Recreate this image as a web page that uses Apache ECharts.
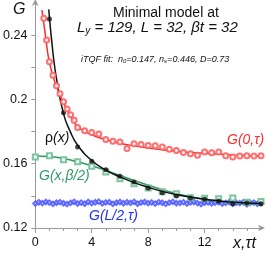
<!DOCTYPE html>
<html><head><meta charset="utf-8">
<script src="https://cdn.jsdelivr.net/npm/echarts@6/dist/echarts.min.js"></script>
<style>html,body{margin:0;padding:0;background:#fff}#c{width:266px;height:254px}</style>
</head><body><div id="c"></div>
<script>
// ---- data ----
const redX = [0.6,0.8,1.0,1.25,1.5,1.75,2.0,2.25,2.5,2.75,3.0,3.5,4.0,4.5,5.0,5.5,6.0,6.5,7.0,7.5,8.0,8.5,9.0,9.5,10.0,10.5,11.0,11.5,12.0,12.5,13.0,13.5,14.0,14.5,15.0,15.5,16.0];
const redY = [0.2505,0.2370,0.2235,0.2150,0.2085,0.2035,0.1985,0.1940,0.1905,0.1870,0.1825,0.1805,0.1795,0.1785,0.1750,0.1740,0.1735,0.1695,0.1724,0.1720,0.1714,0.1712,0.1704,0.1690,0.1683,0.1670,0.1662,0.1652,0.1673,0.1668,0.1673,0.1650,0.1642,0.1648,0.1650,0.1648,0.1650];
const redCurveX = [0.47,0.7,1.0,1.5,2.0,2.5,3.0,4.0,5.0,6.0,7.0,8.0,10.0,12.0,14.0,16.0];
const redCurveY = [0.2556,0.2410,0.2230,0.2080,0.1980,0.1895,0.1830,0.1780,0.1750,0.1727,0.1712,0.1698,0.1678,0.1665,0.1655,0.1647];

const blackX = [1,2,3,4,5,6,7,8,9,10,11,12,13,14,15,16];
const blackY = [0.2500,0.1917,0.1704,0.1615,0.1563,0.1522,0.1486,0.1449,0.1420,0.1399,0.1387,0.1379,0.1368,0.1351,0.1356,0.1351];
const blackCurveX = [0.95,1.25,1.5,2.0,2.5,3.0,4.0,5.0,6.0,7.0,8.0,9.0,10.0,11.0,12.0,13.0,14.0,15.0,16.0];
const blackCurveY = [0.2560,0.2290,0.2130,0.1910,0.1795,0.1715,0.1620,0.1560,0.1518,0.1483,0.1453,0.1428,0.1408,0.1392,0.1379,0.1369,0.1361,0.1356,0.1352];

const greenX = [0,1,2,3,4,5,6,7,8,9,10,11,12,13,14,15,16];
const greenY = [0.1642,0.1650,0.1625,0.1613,0.1584,0.1548,0.1507,0.1476,0.1449,0.1425,0.1413,0.1389,0.1385,0.1382,0.1387,0.1360,0.1365];
const greenCurveX = [0,1,2,3,4,5,6,7,8,9,10,11,12,13,14,15,16];
const greenCurveY = [0.1648,0.1645,0.1632,0.1612,0.1587,0.1558,0.1527,0.1496,0.1466,0.1438,0.1414,0.1394,0.1378,0.1366,0.1358,0.1353,0.1351];

const blueX = [0,0.25,0.5,0.75,1,1.25,1.5,1.75,2,2.25,2.5,2.75,3,3.25,3.5,3.75,4,4.25,4.5,4.75,5,5.25,5.5,5.75,6,6.25,6.5,6.75,7,7.25,7.5,7.75,8,8.25,8.5,8.75,9,9.25,9.5,9.75,10,10.25,10.5,10.75,11,11.25,11.5,11.75,12,12.25,12.5,12.75,13,13.25,13.5,13.75,14,14.25,14.5,14.75,15,15.25,15.5,15.75,16];
const blueY = [0.1352,0.1360,0.1355,0.1362,0.1358,0.1350,0.1357,0.1361,0.1354,0.1349,0.1356,0.1363,0.1352,0.1358,0.1351,0.1362,0.1355,0.1360,0.1364,0.1353,0.1359,0.1361,0.1350,0.1357,0.1362,0.1354,0.1360,0.1356,0.1363,0.1351,0.1358,0.1362,0.1355,0.1359,0.1352,0.1361,0.1357,0.1350,0.1358,0.1363,0.1354,0.1356,0.1361,0.1352,0.1359,0.1362,0.1355,0.1349,0.1357,0.1360,0.1353,0.1358,0.1361,0.1352,0.1356,0.1362,0.1350,0.1357,0.1355,0.1360,0.1348,0.1356,0.1358,0.1351,0.1354];
const blueLineX = [-0.1,16];
const blueLineY = [0.1355,0.1355];

const yLabels = [0.12,0.16,0.2,0.24];
const yTicks = [0.12,0.14,0.16,0.18,0.2,0.22,0.24];
const xLabels = [0,4,8,12];

const RED='#ff2a2a', BLUE='#1f2dff', GREEN='#2f9a68', BLACK='#111';
const FONT='Liberation Sans, Arial, sans-serif';

const zip=(a,b)=>a.map((v,i)=>[v,b[i]]);

function errSeries(xs, ys, err, color, z){
  return {type:'custom', z:z, silent:true,
    data: xs.map((v,i)=>[v,ys[i]]),
    renderItem:(params, api)=>{
      const x=api.value(0), y=api.value(1);
      const p1=api.coord([x,y+err]), p2=api.coord([x,y-err]);
      const w=1.3;
      return {type:'group', children:[
        {type:'line', shape:{x1:p1[0],y1:p1[1],x2:p2[0],y2:p2[1]}, style:{stroke:color,lineWidth:0.7}},
        {type:'line', shape:{x1:p1[0]-w,y1:p1[1],x2:p1[0]+w,y2:p1[1]}, style:{stroke:color,lineWidth:0.7}},
        {type:'line', shape:{x1:p2[0]-w,y1:p2[1],x2:p2[0]+w,y2:p2[1]}, style:{stroke:color,lineWidth:0.7}}
      ]};
    }};
}

const chart = echarts.init(document.getElementById('c'), null, {renderer:'canvas'});
chart.setOption({
  animation:false,
  grid:{left:35,right:5,top:3,bottom:26,containLabel:false},
  xAxis:{type:'value', min:0, max:16, interval:4,
    axisLine:{show:true, lineStyle:{color:'#999',width:1}, symbol:['none','arrow'], symbolSize:[5,7], symbolOffset:[0,4]},
    axisTick:{show:true, length:5, lineStyle:{color:'#999'}, customValues:xLabels},
    minorTick:{show:true, splitNumber:4, length:3, lineStyle:{color:'#999'}},
    axisLabel:{customValues:xLabels, color:'#111', fontSize:12.5, fontFamily:FONT, margin:8},
    splitLine:{show:false}},
  yAxis:{type:'value', min:0.12, max:0.26, interval:0.02,
    axisLine:{show:true, lineStyle:{color:'#999',width:1}, symbol:['none','arrow'], symbolSize:[5,7], symbolOffset:[0,4]},
    axisTick:{show:true, length:4, lineStyle:{color:'#999'}, customValues:yTicks},
    axisLabel:{customValues:yLabels, color:'#111', fontSize:12.5, fontFamily:FONT, margin:8,
      formatter:v=>String(+(+v).toFixed(2))},
    splitLine:{show:false}},
  series:[
    {type:'line', data:zip(blueLineX,blueLineY), showSymbol:false, lineStyle:{color:BLUE,width:2}, z:2},
    errSeries(blueX, blueY, 0.0010, '#5a64ff', 3),
    {type:'scatter', data:zip(blueX,blueY), symbol:'emptyDiamond', symbolSize:4.5, itemStyle:{color:'#4a55ff', borderColor:'#4a55ff', borderWidth:0.7}, z:4},
    {type:'line', data:zip(greenCurveX,greenCurveY), smooth:true, showSymbol:false, lineStyle:{color:GREEN,width:1.6}, z:5},
    {type:'scatter', data:zip(greenX,greenY), symbol:'emptyRect', symbolSize:5, itemStyle:{color:'#6fbf95', borderColor:'#6fbf95', borderWidth:0.9, opacity:0.9}, z:6},
    {type:'line', data:zip(blackCurveX,blackCurveY), smooth:true, showSymbol:false, lineStyle:{color:BLACK,width:1.5}, z:7},
    {type:'scatter', data:zip(blackX,blackY), symbol:'circle', symbolSize:5, itemStyle:{color:BLACK}, z:8},
    {type:'line', data:zip(redCurveX,redCurveY), smooth:true, showSymbol:false, lineStyle:{color:RED,width:1.5}, z:9},
    errSeries(redX, redY, 0.0009, '#ff7a7a', 10),
    {type:'scatter', data:zip(redX,redY), symbol:'emptyCircle', symbolSize:5, itemStyle:{color:'#ff6060', borderColor:'#ff6060', borderWidth:0.8, opacity:0.9}, z:11}
  ],
  graphic:[
    {type:'text', left:13, top:2, style:{text:'G', font:'italic 16px '+FONT, fill:'#111'}},
    {type:'text', left:233, top:236, style:{text:'x,τt', font:'italic 16px '+FONT, fill:'#111'}},
    {type:'text', left:113, top:6, style:{text:'Minimal model at', font:'14px '+FONT, fill:'#111'}},
    {type:'text', left:77, top:20, style:{
      rich:{a:{font:'italic 15px '+FONT, fill:'#111'}, s:{font:'italic 10px '+FONT, fill:'#111', verticalAlign:'bottom', padding:[8,0,0,0]}},
      text:'{a|L}{s|y}{a| = 129, L = 32, βt = 32}'}},
    {type:'text', left:81, top:55, style:{
      rich:{a:{font:'italic 9px '+FONT, fill:'#111'}, s:{font:'italic 6px '+FONT, fill:'#111', padding:[4,0,0,0]}},
      text:'{a|iTQF fit:  n}{s|0}{a|=0.147, n}{s|s}{a|=0.446, D=0.73}'}},
    {type:'text', left:45, top:131, style:{
      rich:{a:{font:'14px '+FONT, fill:'#111'}, b:{font:'italic 14px '+FONT, fill:'#111'}},
      text:'{a|ρ}{b|(x)}'}},
    {type:'text', left:39, top:169, style:{text:'G(x,β/2)', font:'italic 14px '+FONT, fill:GREEN}},
    {type:'text', left:89, top:209, style:{text:'G(L/2,τ)', font:'italic 14px '+FONT, fill:BLUE}},
    {type:'text', left:227, top:133, style:{text:'G(0,τ)', font:'italic 14px '+FONT, fill:RED}}
  ]
});
</script></body></html>
